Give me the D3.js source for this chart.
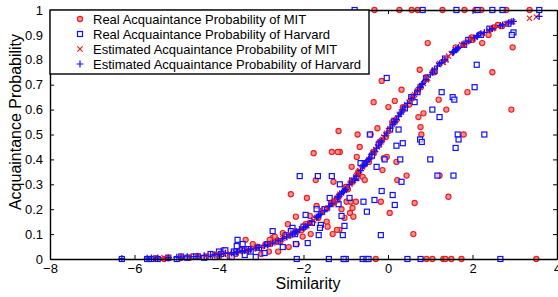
<!DOCTYPE html>
<html>
<head>
<style>
  body { margin: 0; background: #fff; }
  svg text { font-family: Arial, "Liberation Sans", sans-serif; fill: #000; }
</style>
</head>
<body>
<svg id="chart" width="558" height="297"></svg>
<script src="https://d3js.org/d3.v7.min.js"></script>
<script>
// MIT: similarity, real probability, estimated probability
const mitX = [-0.32, 0.27, 0.56, 0.70, 1.29, 1.81, 2.07, 2.21, 2.80, 3.35,
  -0.29, 0.91, 1.05, 1.31, 1.36, 1.50, 1.74, 3.51,
  0.94, 2.95, 0.75, 2.47, -0.15, 0.32, 1.88, 0.16, 0.01, 1.20, 1.38, 2.92,
  0.84, 0.72, -0.25, 0.77, -0.41, 0.79, 1.79, -0.67, -0.03, -0.10,
  0.20, -0.13, 0.44, 0.22, 1.22, -0.17, 0.63, 1.43, 0.04, 0.60,
  -0.72, -1.14, -0.74, -0.86, -0.60, -0.55, -0.98, -0.88, -0.76, -1.10,
  -0.84, -0.90, -1.03, -0.82, -1.15, -1.17, -1.76, -1.33, -1.19, -1.71,
  -1.29, -2.30, -1.92, -1.69, -2.18, -2.37, -1.85, -1.45, -1.43, -1.21,
  -2.02, -1.83, -1.31, -2.73, -2.68, -2.80, -2.35, -2.16, -2.49, -2.44,
  -3.20, -3.37, -2.82, 2.23, 2.38, 1.98, -3.60, -3.90, -4.00, -4.30,
  -4.70, -5.20, -5.50, -3.00, -2.60, -0.34,
  -5.30, -4.90, -4.50, -4.10, -3.75,
  -3.50, -3.30, -3.10, -2.90, -2.55, -2.25, -2.05, -1.95, -1.65, -1.55,
  -1.35, -1.25, -1.00, -0.95, -0.70, -0.45, -0.35, -0.20, -0.05, 0.10,
  0.35, 0.50, 0.90, 1.10, 1.60, 2.00, 2.50, 2.60, 2.70];
const mitReal = [1, 1, 1, 1, 1, 1, 1, 1, 1, 1,
  0, 0, 0, 0, 0, 0, 0, 0,
  0.867, 0.85, 0.76, 0.75, 0.715, 0.68, 0.67, 0.635, 0.61, 0.64, 0.60, 0.60,
  0.585, 0.57, 0.525, 0.53, 0.50, 0.50, 0.50, 0.45, 0.41, 0.405,
  0.39, 0.357, 0.335, 0.317, 0.335, 0.23, 0.225, 0.25, 0.185, 0.10,
  0.50, 0.43, 0.41, 0.37, 0.33, 0.317, 0.23, 0.23, 0.23, 0.20,
  0.205, 0.185, 0.165, 0.17, 0.117, 0.514, 0.425, 0.43, 0.43, 0.317,
  0.31, 0.26, 0.245, 0.213, 0.17, 0.14, 0.173, 0.15, 0.13, 0.117,
  0.09, 0.10, 0.10, 0.085, 0.09, 0.077, 0.048, 0.06, 0.104, 0.097,
  0.06, 0.077, 0.03, 0.867, 0.90, 0.89, 0.02, 0.036, 0.01, 0.01,
  0.005, 0.003, 0.003, 0.02, 0.03, 0.63,
  0, 0.004, 0.01, 0.015, 0.01,
  0.035, 0.03, 0.05, 0.06, 0.07, 0.11, 0.115, 0.14, 0.165, 0.195,
  0.225, 0.23, 0.29, 0.28, 0.35, 0.39, 0.43, 0.47, 0.49, 0.55,
  0.61, 0.62, 0.73, 0.75, 0.85, 0.88, 0.93, 0.94, 0.935];
const mitEst = [0.43, 0.58, 0.645, 0.675, 0.79, 0.865, 0.89, 0.905, 0.945, 0.967,
  0.44, 0.72, 0.75, 0.79, 0.80, 0.825, 0.86, 0.972,
  0.725, 0.953, 0.69, 0.925, 0.475, 0.59, 0.875, 0.55, 0.515, 0.78, 0.80, 0.952,
  0.705, 0.68, 0.45, 0.69, 0.41, 0.695, 0.86, 0.355, 0.505, 0.49,
  0.56, 0.48, 0.62, 0.565, 0.785, 0.47, 0.66, 0.815, 0.52, 0.655,
  0.34, 0.26, 0.335, 0.31, 0.37, 0.38, 0.285, 0.305, 0.33, 0.265,
  0.31, 0.30, 0.275, 0.315, 0.255, 0.25, 0.155, 0.222, 0.245, 0.163,
  0.23, 0.097, 0.135, 0.167, 0.109, 0.091, 0.143, 0.202, 0.205, 0.243,
  0.123, 0.145, 0.225, 0.064, 0.067, 0.06, 0.093, 0.111, 0.082, 0.086,
  0.041, 0.035, 0.059, 0.906, 0.918, 0.884, 0.028, 0.021, 0.019, 0.014,
  0.009, 0.006, 0.004, 0.05, 0.073, 0.425,
  0.0052, 0.0078, 0.011, 0.017, 0.024,
  0.031, 0.037, 0.045, 0.055, 0.077, 0.102, 0.121, 0.131, 0.172, 0.187,
  0.218, 0.236, 0.28, 0.29, 0.345, 0.40, 0.425, 0.46, 0.50, 0.54,
  0.60, 0.63, 0.72, 0.76, 0.84, 0.886, 0.927, 0.934, 0.94];

// Harvard: similarity, real probability, estimated probability
const harvardX = [-0.79, 0.82, 1.62, 2.12, 2.47, 2.71, 3.58,
  -2.16, -1.40, -1.00, -0.60, -0.51, -0.46, 0.46, 0.77, 2.66, -1.05,
  -0.03, 2.10, 2.97, 2.93, 1.27, 1.53, 1.57, 2.05, 0.63, 1.05,
  1.22, -0.43, 0.25, 0.76, 0.80, 1.65, 2.28, 0.20, 0.35, 1.60,
  1.67, -0.08, 0.29, 1.00, -0.27, 0.32, 1.17, 1.55, -0.15, 0.11,
  -0.32, -0.58, 0.16, -0.50, -0.17, -0.65, -1.14, -0.91, -1.10, -1.03,
  -1.07, -2.09, -1.66, -1.33, -1.38, -1.69, -1.17, -1.95, -1.59, -1.61,
  -2.26, -2.30, -1.64, -2.73, -1.90, -2.18, -2.49, -3.56, -3.58, -3.44,
  -2.92, -3.13, -3.39, -3.70, -6.30, -5.70, -5.60, -5.45, -5.00, -4.75,
  -4.50, -4.35, -4.20, -4.00, -3.85, -4.10, -3.25,
  -5.20, -4.90, -4.60, -3.95, -3.65, -3.45, -3.30, -3.05, -2.85, -2.60,
  -2.40, -2.20, -2.00, -1.80, -1.50, -1.20, -0.85, -0.75, -0.55, -0.38,
  -0.22, 0.05, 0.15, 0.40, 0.55, 0.70, 0.90, 1.10, 1.35, 1.80,
  1.90, 2.20, 2.40, 2.85];
const harvardReal = [1, 1, 1, 1, 1, 1, 1,
  0, 0, 0, 0, 0, 0, 0, 0, 0, 0,
  0.727, 0.78, 0.91, 0.90, 0.67, 0.65, 0.64, 0.69, 0.63, 0.60,
  0.57, 0.50, 0.52, 0.48, 0.47, 0.50, 0.50, 0.455, 0.465, 0.446,
  0.48, 0.40, 0.40, 0.40, 0.37, 0.31, 0.335, 0.335, 0.273, 0.257,
  0.237, 0.23, 0.217, 0.19, 0.096, 0.385, 0.30, 0.245, 0.173, 0.133,
  0.096, 0.333, 0.333, 0.333, 0.245, 0.20, 0.22, 0.177, 0.137, 0.125,
  0.125, 0.112, 0.096, 0.112, 0.064, 0.06, 0.048, 0.077, 0.052, 0.06,
  0.024, 0.008, 0.016, 0.008, 0, 0, 0, 0, 0, 0.005,
  0.01, 0.005, 0.02, 0.03, 0.035, 0.008, 0.03,
  0.005, 0.01, 0.01, 0.02, 0.03, 0.035, 0.04, 0.045, 0.06, 0.07,
  0.095, 0.10, 0.13, 0.145, 0.20, 0.24, 0.315, 0.325, 0.385, 0.415,
  0.46, 0.52, 0.555, 0.605, 0.65, 0.67, 0.725, 0.755, 0.805, 0.86,
  0.88, 0.90, 0.925, 0.945];
const harvardEst = [0.32, 0.705, 0.84, 0.897, 0.925, 0.94, 0.974,
  0.111, 0.21, 0.28, 0.37, 0.39, 0.40, 0.625, 0.69, 0.937, 0.27,
  0.505, 0.895, 0.954, 0.953, 0.79, 0.83, 0.835, 0.888, 0.66, 0.75,
  0.785, 0.405, 0.575, 0.69, 0.70, 0.845, 0.91, 0.56, 0.60, 0.84,
  0.85, 0.495, 0.583, 0.74, 0.445, 0.59, 0.775, 0.833, 0.475, 0.54,
  0.43, 0.375, 0.55, 0.39, 0.47, 0.355, 0.26, 0.30, 0.265, 0.275,
  0.27, 0.118, 0.17, 0.222, 0.213, 0.167, 0.25, 0.13, 0.18, 0.178,
  0.10, 0.097, 0.175, 0.064, 0.137, 0.109, 0.082, 0.029, 0.028, 0.033,
  0.054, 0.044, 0.034, 0.025, 0.002, 0.0035, 0.004, 0.0045, 0.007, 0.009,
  0.011, 0.013, 0.016, 0.019, 0.022, 0.017, 0.039,
  0.0058, 0.0078, 0.0095, 0.020, 0.026, 0.032, 0.037, 0.047, 0.057, 0.073,
  0.089, 0.107, 0.125, 0.15, 0.195, 0.245, 0.31, 0.333, 0.38, 0.42,
  0.457, 0.525, 0.55, 0.61, 0.645, 0.675, 0.72, 0.76, 0.80, 0.865,
  0.875, 0.905, 0.92, 0.948];

const xTicks = [-8, -6, -4, -2, 0, 2, 4];
const yTicks = [0, 0.1, 0.2, 0.3, 0.4, 0.5, 0.6, 0.7, 0.8, 0.9, 1];
const legendLabels = [
  'Real Acquaintance Probability of MIT',
  'Real Acquaintance Probability of Harvard',
  'Estimated Acquaintance Probability of MIT',
  'Estimated Acquaintance Probability of Harvard'
];

const RED = '#ee1c1c';
const BLUE = '#1010ff';

const svg = d3.select('#chart');
const margin = { top: 10, right: 1, bottom: 38, left: 50 };
const width = 558, height = 297;

const x = d3.scaleLinear().domain([-8, 4]).range([margin.left, width - margin.right]);
const y = d3.scaleLinear().domain([0, 1]).range([height - margin.bottom, margin.top]);

// marker drawers
function circleMark(g, cx, cy) {
  g.append('circle').attr('cx', cx).attr('cy', cy).attr('r', 2.6)
    .attr('fill', '#f49090').attr('stroke', RED).attr('stroke-width', 1.1);
}
function squareMark(g, cx, cy) {
  g.append('rect').attr('x', cx - 2.5).attr('y', cy - 2.5).attr('width', 5).attr('height', 5)
    .attr('fill', '#fff').attr('fill-opacity', 0.6).attr('stroke', BLUE).attr('stroke-width', 1.2);
}
function crossMark(g, cx, cy) {
  const s = 2.6;
  g.append('path').attr('d', `M${cx - s},${cy - s}L${cx + s},${cy + s}M${cx - s},${cy + s}L${cx + s},${cy - s}`)
    .attr('stroke', RED).attr('stroke-width', 1.2).attr('fill', 'none');
}
function plusMark(g, cx, cy) {
  const s = 3.4;
  g.append('path').attr('d', `M${cx - s},${cy}L${cx + s},${cy}M${cx},${cy - s}L${cx},${cy + s}`)
    .attr('stroke', BLUE).attr('stroke-width', 1.2).attr('fill', 'none');
}

// series
const gMitReal = svg.append('g');
mitX.forEach((v, i) => circleMark(gMitReal, x(v), y(mitReal[i])));
const gHarReal = svg.append('g');
harvardX.forEach((v, i) => squareMark(gHarReal, x(v), y(harvardReal[i])));
const gMitEst = svg.append('g');
mitX.forEach((v, i) => crossMark(gMitEst, x(v), y(mitEst[i])));
const gHarEst = svg.append('g');
harvardX.forEach((v, i) => plusMark(gHarEst, x(v), y(harvardEst[i])));

// axes (box with inward ticks)
const fmt = d => String(d).replace('-', '\u2212');
svg.append('g').attr('transform', `translate(0,${y(0)})`)
  .call(d3.axisBottom(x).tickValues(xTicks).tickSizeInner(-4).tickSizeOuter(0).tickPadding(7).tickFormat(fmt))
  .call(g => g.selectAll('text').attr('font-size', 13).attr('dy', '0.55em'));
svg.append('g').attr('transform', `translate(0,${y(1)})`)
  .call(d3.axisTop(x).tickValues(xTicks).tickSizeInner(-4).tickSizeOuter(0).tickFormat(''));
svg.append('g').attr('transform', `translate(${x(-8)},0)`)
  .call(d3.axisLeft(y).tickValues(yTicks).tickSizeInner(-4).tickSizeOuter(0).tickPadding(7).tickFormat(d => String(d)))
  .call(g => g.selectAll('text').attr('font-size', 13));
svg.append('g').attr('transform', `translate(${x(4)},0)`)
  .call(d3.axisRight(y).tickValues(yTicks).tickSizeInner(-4).tickSizeOuter(0).tickFormat(''));
svg.selectAll('.domain').attr('stroke', '#000').attr('stroke-width', 1.4);
svg.selectAll('.tick line').attr('stroke', '#000').attr('stroke-width', 1);

// labels
svg.append('text').attr('x', 308).attr('y', 289).attr('text-anchor', 'middle')
  .attr('font-size', 16).text('Similarity');
svg.append('text').attr('transform', 'translate(21,122) rotate(-90)').attr('text-anchor', 'middle')
  .attr('font-size', 16).text('Acquaintance Probability');

// legend
const lg = svg.append('g');
lg.append('rect').attr('x', x(-8)).attr('y', y(1)).attr('width', 319).attr('height', 64)
  .attr('fill', '#fff').attr('stroke', '#000').attr('stroke-width', 1.4);
const markers = [circleMark, squareMark, crossMark, plusMark];
legendLabels.forEach((t, i) => {
  const cy = 19 + i * 15;
  markers[i](lg, 80, cy);
  lg.append('text').attr('x', 93).attr('y', cy).attr('dy', '0.35em').attr('font-size', 13).text(t);
});
</script>
</body>
</html>
